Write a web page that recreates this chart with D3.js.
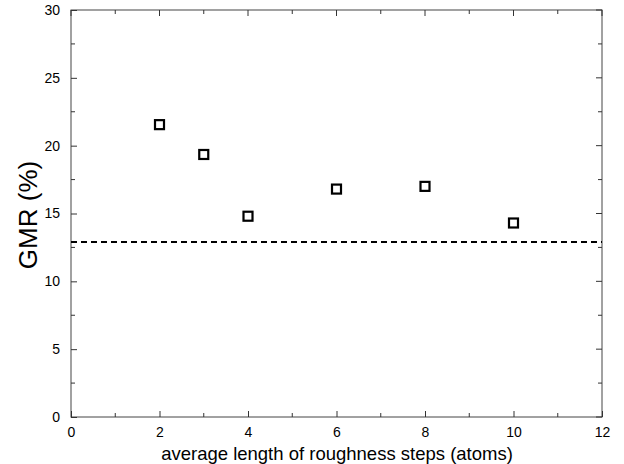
<!DOCTYPE html>
<html>
<head>
<meta charset="utf-8">
<script src="https://cdn.jsdelivr.net/npm/d3@7"></script>
<style>
  body { margin: 0; background: #fff; }
  svg { font-family: "Liberation Sans", Arial, sans-serif; }
</style>
</head>
<body>
<svg id="chart" width="624" height="464"></svg>
<script>
// step length (atoms) vs GMR (%)
var stepLength = [2, 3, 4, 6, 8, 10];
var gmrValues = [21.55, 19.35, 14.8, 16.8, 17.0, 14.3];
var flatGmr = 12.9; // dashed reference line
var xTicks = [0, 2, 4, 6, 8, 10, 12];
var yTicks = [0, 5, 10, 15, 20, 25, 30];

var svg = d3.select("#chart");
var margin = ({top: 10, right: 22, bottom: 47, left: 71});
var width = 624, height = 464;

var x = d3.scaleLinear()
    .domain([0, 12])
    .range([margin.left, width - margin.right]);

var y = d3.scaleLinear()
    .domain([0, 30])
    .range([height - margin.bottom, margin.top]);

var tickLen = 6, minorLen = 4;

// frame
svg.append("rect")
    .attr("x", x(0)).attr("y", y(30))
    .attr("width", x(12) - x(0)).attr("height", y(0) - y(30))
    .attr("fill", "none").attr("stroke", "#444").attr("stroke-width", 1);

var xMinor = d3.range(1, 12, 2);
var yMinor = d3.range(2.5, 30, 5);

var xAxis = g => g
    .attr("transform", `translate(0,${y(0)})`)
    .call(d3.axisBottom(x).tickValues(xTicks).tickSize(-tickLen).tickPadding(tickLen + 4))
    .call(g => g.select(".domain").remove())
    .call(g => g.selectAll(".tick text").attr("font-size", 14).attr("fill", "#000"))
    .call(g => g.selectAll(".tick line").attr("stroke", "#333"));

var yAxis = g => g
    .attr("transform", `translate(${x(0)},0)`)
    .call(d3.axisLeft(y).tickValues(yTicks).tickSize(-tickLen).tickPadding(tickLen + 5))
    .call(g => g.select(".domain").remove())
    .call(g => g.selectAll(".tick text").attr("font-size", 14).attr("fill", "#000"))
    .call(g => g.selectAll(".tick line").attr("stroke", "#333"));

svg.append("g").call(xAxis);
svg.append("g").call(yAxis);

// ticks on top/right and minor ticks
var tg = svg.append("g").attr("stroke", "#333").attr("stroke-width", 1);
xTicks.forEach(v => {
  tg.append("line").attr("x1", x(v)).attr("x2", x(v)).attr("y1", y(30)).attr("y2", y(30) + tickLen);
});
xMinor.forEach(v => {
  tg.append("line").attr("x1", x(v)).attr("x2", x(v)).attr("y1", y(0)).attr("y2", y(0) - minorLen);
  tg.append("line").attr("x1", x(v)).attr("x2", x(v)).attr("y1", y(30)).attr("y2", y(30) + minorLen);
});
yTicks.forEach(v => {
  tg.append("line").attr("x1", x(12)).attr("x2", x(12) - tickLen).attr("y1", y(v)).attr("y2", y(v));
});
yMinor.forEach(v => {
  tg.append("line").attr("x1", x(0)).attr("x2", x(0) + minorLen).attr("y1", y(v)).attr("y2", y(v));
  tg.append("line").attr("x1", x(12)).attr("x2", x(12) - minorLen).attr("y1", y(v)).attr("y2", y(v));
});

// dashed line
svg.append("line")
    .attr("x1", x(0)).attr("x2", x(12))
    .attr("y1", y(flatGmr)).attr("y2", y(flatGmr))
    .attr("stroke", "#000").attr("stroke-width", 2)
    .attr("stroke-dasharray", "6,4");

// markers
var s = 9;
svg.append("g")
    .selectAll("rect")
    .data(stepLength)
    .join("rect")
    .attr("x", (d) => x(d) - s / 2)
    .attr("y", (d, i) => y(gmrValues[i]) - s / 2)
    .attr("width", s).attr("height", s)
    .attr("fill", "#fff").attr("stroke", "#000").attr("stroke-width", 2.2);

// labels
svg.append("text")
    .attr("x", 337).attr("y", 460)
    .attr("text-anchor", "middle").attr("font-size", 18.5)
    .text("average length of roughness steps (atoms)");

svg.append("text")
    .attr("transform", `translate(37,215) rotate(-90)`)
    .attr("text-anchor", "middle").attr("font-size", 26)
    .text("GMR (%)");
</script>
</body>
</html>
